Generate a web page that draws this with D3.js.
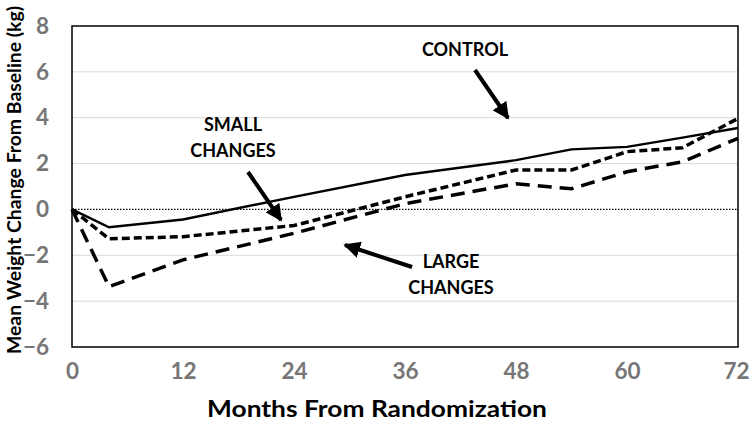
<!DOCTYPE html>
<html>
<head>
<meta charset="utf-8">
<script src="https://cdn.jsdelivr.net/npm/d3@7"></script>
<style>
  body { margin: 0; background: #fff; }
  svg { display: block; }
  text { font-family: Lato, "Open Sans", sans-serif; font-weight: bold; }
</style>
</head>
<body>
<svg id="chart" width="750" height="426"></svg>
<script>
const months = [0, 4, 12, 24, 36, 48, 54, 60, 66, 72];
const control = [0, -0.78, -0.44, 0.55, 1.5, 2.15, 2.62, 2.73, 3.13, 3.55];
const smallChanges = [0, -1.28, -1.19, -0.7, 0.55, 1.72, 1.72, 2.52, 2.69, 3.97];
const largeChanges = [0, -3.37, -2.2, -1.04, 0.25, 1.12, 0.9, 1.64, 2.08, 3.1];
const xTicks = [0, 12, 24, 36, 48, 60, 72];
const yTicks = [-6, -4, -2, 0, 2, 4, 6, 8];

const svg = d3.select("#chart");
const L = 72, R = 738, T = 26, B = 347;
const x = d3.scaleLinear().domain([0, 72]).range([L, R]);
const y = d3.scaleLinear().domain([-6, 8]).range([B, T]);

// gridlines
svg.append("g").selectAll("line").data(yTicks.filter(d => d !== 0 && d !== 8 && d !== -6)).join("line")
  .attr("x1", L).attr("x2", R).attr("y1", d => y(d)).attr("y2", d => y(d))
  .attr("stroke", "#d9d9d9").attr("stroke-width", 1);

// zero dotted line
svg.append("line").attr("x1", L).attr("x2", R).attr("y1", y(0)).attr("y2", y(0))
  .attr("stroke", "#000").attr("stroke-width", 1.3).attr("stroke-dasharray", "1.5,1.5");

// axes (labels only)
const yAxis = svg.append("g").attr("transform", `translate(${L},0)`)
  .call(d3.axisLeft(y).tickValues(yTicks).tickSize(0).tickPadding(23).tickFormat(d3.format("d")));
yAxis.select(".domain").remove();
yAxis.selectAll("text").attr("fill", "#767676").attr("font-size", 22.5)
  .style("font-family", "Lato, sans-serif").style("font-weight", "bold");

const xAxis = svg.append("g").attr("transform", `translate(0,${B})`)
  .call(d3.axisBottom(x).tickValues(xTicks).tickSize(0).tickPadding(16));
xAxis.select(".domain").remove();
xAxis.selectAll("text").attr("fill", "#767676").attr("font-size", 22.5)
  .style("font-family", "Lato, sans-serif").style("font-weight", "bold");
// keep the last label inside the window
xAxis.selectAll(".tick").filter(d => d === 72).select("text").attr("text-anchor", "end").attr("dx", 11);

// frame
svg.append("rect").attr("x", L).attr("y", T).attr("width", R - L).attr("height", B - T)
  .attr("fill", "none").attr("stroke", "#000").attr("stroke-width", 1.5);

// lines
const line = d3.line().x((d, i) => x(months[i])).y(d => y(d));
svg.append("path").datum(largeChanges).attr("d", line)
  .attr("fill", "none").attr("stroke", "#000").attr("stroke-width", 3.5).attr("stroke-dasharray", "14,8");
svg.append("path").datum(smallChanges).attr("d", line)
  .attr("fill", "none").attr("stroke", "#000").attr("stroke-width", 3.5).attr("stroke-dasharray", "8,4");
svg.append("path").datum(control).attr("d", line)
  .attr("fill", "none").attr("stroke", "#000").attr("stroke-width", 2.4);

// axis titles
svg.append("text").attr("x", 377).attr("y", 417).attr("text-anchor", "middle")
  .attr("font-size", 23).attr("textLength", 340).attr("lengthAdjust", "spacingAndGlyphs")
  .attr("fill", "#000").text("Months From Randomization");
svg.append("text").attr("transform", "translate(21,180) rotate(-90)").attr("text-anchor", "middle")
  .attr("font-size", 19.5).attr("textLength", 348).attr("lengthAdjust", "spacingAndGlyphs")
  .attr("fill", "#000").text("Mean Weight Change From Baseline (kg)");

// annotations
const defs = svg.append("defs");
defs.append("marker").attr("id", "ah").attr("viewBox", "0 0 10 10").attr("refX", 9).attr("refY", 5)
  .attr("markerWidth", 4.2).attr("markerHeight", 4.2).attr("orient", "auto")
  .append("path").attr("d", "M0,0 L10,5 L0,10 z").attr("fill", "#000");

function arrow(x1, y1, x2, y2) {
  svg.append("line").attr("x1", x1).attr("y1", y1).attr("x2", x2).attr("y2", y2)
    .attr("stroke", "#000").attr("stroke-width", 4).attr("marker-end", "url(#ah)");
}
function label(cx, lines, y0) {
  lines.forEach((t, i) => svg.append("text").attr("x", cx).attr("y", y0 + i * 26)
    .attr("text-anchor", "middle").attr("font-size", 18).attr("fill", "#000").text(t));
}
label(465, ["CONTROL"], 56);
arrow(475, 70, 508, 118);
label(233, ["SMALL", "CHANGES"], 131);
arrow(248, 172, 281, 220);
label(451, ["LARGE", "CHANGES"], 268);
arrow(412, 267, 345, 245);
</script>
</body>
</html>
